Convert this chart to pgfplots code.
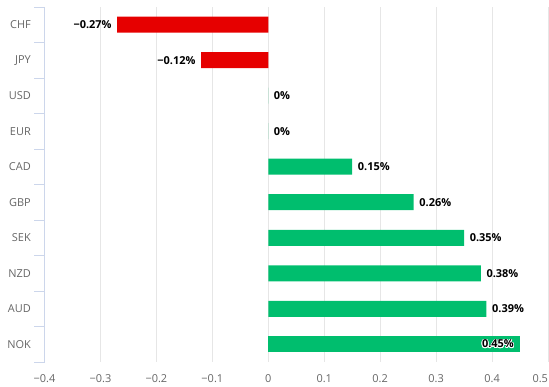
\documentclass[border=0pt]{standalone}
\usepackage{pgfplots}
\pgfplotsset{compat=1.18}
\usepackage{fontspec}
\setmainfont{Open Sans}
\usepackage{contour}
\contourlength{0.7pt}
\contournumber{16}
\definecolor{redbar}{RGB}{230,0,0}
\definecolor{greenbar}{RGB}{0,190,110}
\definecolor{axisblue}{RGB}{204,214,235}
\definecolor{gridgray}{RGB}{230,230,230}
\definecolor{labgray}{RGB}{102,102,102}
\begin{document}
\begin{tikzpicture}
\path[use as bounding box] (0,0) rectangle (549bp,387bp);
\begin{axis}[
  at={(44.5bp,25bp)}, anchor=south west,
  scale only axis, width=503.5bp, height=355bp,
  xbar, bar width=16bp, bar shift=0pt,
  xmin=-0.4, xmax=0.5, ymin=-0.5, ymax=9.5, y dir=reverse,
  xtick={-0.4,-0.3,-0.2,-0.1,0,0.1,0.2,0.3,0.4,0.5},
  xticklabels={−0.4,−0.3,−0.2,−0.1,0,0.1,0.2,0.3,0.4,\makebox[0pt][r]{0.5}},
  ytick={0,1,2,3,4,5,6,7,8,9},
  yticklabels={CHF,JPY,USD,EUR,CAD,GBP,SEK,NZD,AUD,NOK},
  minor ytick={-0.5,0.5,1.5,2.5,3.5,4.5,5.5,6.5,7.5,8.5,9.5},
  axis x line*=bottom, axis y line*=left,
  x axis line style={draw=none},
  y axis line style={draw=axisblue, -},
  xmajorgrids, major x grid style={draw=gridgray},
  major tick length=0pt, minor tick length=10bp, tick align=outside,
  minor tick style={draw=axisblue},
  ytick pos=left,
  tick label style={font=\fontsize{11}{13}\selectfont, text=labgray},
  xticklabel style={anchor=north, inner sep=0pt, yshift=-12bp},
  yticklabel style={anchor=east, inner sep=0pt, xshift=-13.5bp},
  clip=false,
]
\addplot[fill=redbar, draw=none, nodes near coords, point meta=explicit symbolic,
  nodes near coords style={anchor=east, inner sep=0pt, xshift=-5.5bp, text=black, font=\bfseries\fontsize{11}{13}\selectfont}]
  coordinates {(-0.27,0) [−0.27\%] (-0.12,1) [−0.12\%]};
\addplot[fill=greenbar, draw=none, nodes near coords, point meta=explicit symbolic,
  nodes near coords style={anchor=west, inner sep=0pt, xshift=5.5bp, text=black, font=\bfseries\fontsize{11}{13}\selectfont}]
  coordinates {(0,2) [0\%] (0,3) [0\%] (0.15,4) [0.15\%] (0.26,5) [0.26\%] (0.35,6) [0.35\%] (0.38,7) [0.38\%] (0.39,8) [0.39\%]};
\addplot[fill=greenbar, draw=none, nodes near coords, point meta=explicit symbolic,
  nodes near coords style={anchor=east, inner sep=0pt, xshift=-6bp, text=black, font=\bfseries\fontsize{11}{13}\selectfont}]
  coordinates {(0.45,9) [\contour{white}{0.45\%}]};
\end{axis}
\end{tikzpicture}
\end{document}
